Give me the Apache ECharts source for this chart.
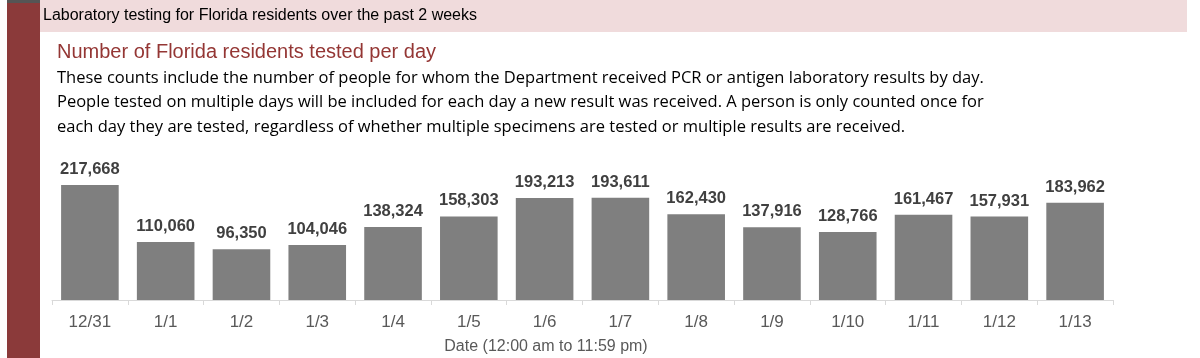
<!DOCTYPE html>
<html><head><meta charset="utf-8">
<script src="https://cdn.jsdelivr.net/npm/echarts@6/dist/echarts.min.js"></script>
<style>html,body{margin:0;padding:0;background:#fff}#c{width:1200px;height:358px}</style>
</head><body><div id="c"></div>
<script>
var categories = ['12/31','1/1','1/2','1/3','1/4','1/5','1/6','1/7','1/8','1/9','1/10','1/11','1/12','1/13'];
var tested = [217668,110060,96350,104046,138324,158303,193213,193611,162430,137916,128766,161467,157931,183962];
var headerTitle = 'Laboratory testing for Florida residents over the past 2 weeks';
var chartTitle = 'Number of Florida residents tested per day';
var descLines = [
 'These counts include the number of people for whom the Department received PCR or antigen laboratory results by day.',
 'People tested on multiple days will be included for each day a new result was received. A person is only counted once for',
 'each day they are tested, regardless of whether multiple specimens are tested or multiple results are received.'
];
var xAxisName = 'Date (12:00 am to 11:59 pm)';

var FONT = '"Liberation Sans", Arial, sans-serif';
var BODY = '"Open Sans", "Noto Sans", sans-serif';
var chart = echarts.init(document.getElementById('c'));
var g = [
  {type:'rect', shape:{x:7,y:0,width:33,height:358}, style:{fill:'#8b3a3a'}},
  {type:'rect', shape:{x:7,y:0,width:33,height:3}, style:{fill:'#555'}},
  {type:'rect', shape:{x:40,y:0,width:1147,height:32}, style:{fill:'#f0dbdc'}},
  {type:'text', x:43, y:16, style:{text:headerTitle, fill:'#000', font:'16px '+FONT, textVerticalAlign:'middle'}},
  {type:'text', x:57, y:52, style:{text:chartTitle, fill:'#943634', font:'20px '+FONT, textVerticalAlign:'middle'}},
  {type:'text', x:546, y:347, style:{text:xAxisName, fill:'#595959', font:'16px '+FONT, textAlign:'center', textVerticalAlign:'middle'}}
];
descLines.forEach(function(t,i){
  g.push({type:'text', x:57, y:78+i*24.5, style:{text:t, fill:'#000', font:'16.5px '+BODY, textVerticalAlign:'middle'}});
});
chart.setOption({
  animation:false,
  grid:{left:52, right:87, top:168, bottom:58},
  xAxis:{type:'category', data:categories,
    axisLine:{lineStyle:{color:'#d9d9d9', width:1}},
    axisTick:{show:true, length:5, lineStyle:{color:'#d9d9d9'}},
    axisLabel:{color:'#595959', fontSize:17, fontFamily:FONT, margin:14}},
  yAxis:{type:'value', min:0, max:250000, show:false, splitLine:{show:false}},
  series:[{type:'bar', data:tested, barCategoryGap:'24%',
    itemStyle:{color:'#7f7f7f'},
    label:{show:true, position:'top', distance:7, color:'#404040', fontSize:16.5, fontWeight:'bold', fontFamily:FONT,
      formatter:function(p){return p.value.toLocaleString('en-US');}}}],
  graphic:g
});
</script></body></html>
